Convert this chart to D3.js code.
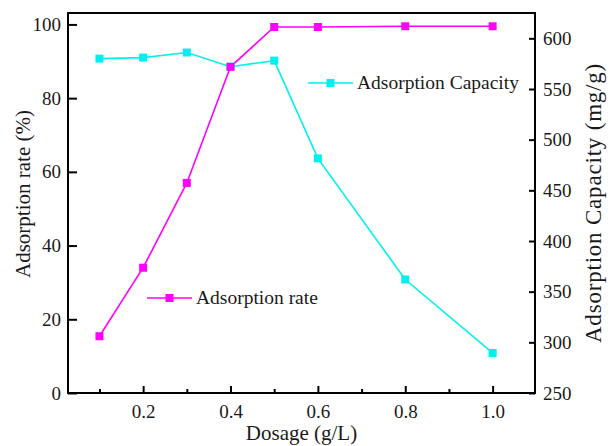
<!DOCTYPE html>
<html>
<head>
<meta charset="utf-8">
<script src="https://cdn.jsdelivr.net/npm/d3@7/dist/d3.min.js"></script>
<style>
  body { margin: 0; background: #fff; }
  svg text { font-family: "Liberation Serif", "Times New Roman", serif; }
</style>
</head>
<body>
<svg width="611" height="446"></svg>
<script>
// data
var dosage = [0.1, 0.2, 0.3, 0.4, 0.5, 0.6, 0.8, 1.0];
var rate = [15.4, 34.0, 57.0, 88.5, 99.3, 99.3, 99.5, 99.5];       // %
var capacity = [580, 581, 586, 572, 578, 481.5, 362, 289.5];       // mg/g
var xTicks = [0.2, 0.4, 0.6, 0.8, 1.0];
var xMinor = [0.1, 0.3, 0.5, 0.7, 0.9];
var leftTicks = [0, 20, 40, 60, 80, 100];
var rightTicks = [250, 300, 350, 400, 450, 500, 550, 600];

var svg = d3.select('svg');
var plot = {l: 68, r: 535, t: 13, b: 393};

var x = d3.scaleLinear().domain([0.028, 1.097]).range([plot.l, plot.r]);
var yL = d3.scaleLinear().domain([0, 103.1]).range([plot.b, plot.t]);
var yR = d3.scaleLinear().domain([250, 625]).range([plot.b, plot.t]);

var rateColor = '#ff00ff', capColor = '#00f0f0';

// frame
svg.append('rect')
  .attr('x', plot.l).attr('y', plot.t)
  .attr('width', plot.r - plot.l).attr('height', plot.b - plot.t)
  .attr('fill', 'none').attr('stroke', '#000').attr('stroke-width', 2);

// bottom axis, ticks pointing inwards
var xAxis = d3.axisBottom(x).tickValues(xTicks).tickSizeInner(-7).tickSizeOuter(0)
  .tickFormat(d3.format('.1f')).tickPadding(12);
var gx = svg.append('g').attr('transform', 'translate(0,' + plot.b + ')').call(xAxis);
svg.append('g').attr('transform', 'translate(0,' + plot.b + ')')
  .call(d3.axisBottom(x).tickValues(xMinor).tickSizeInner(-4).tickSizeOuter(0).tickFormat(''));

// left axis
var gl = svg.append('g').attr('transform', 'translate(' + plot.l + ',0)')
  .call(d3.axisLeft(yL).tickValues(leftTicks).tickSizeInner(-9).tickSizeOuter(0).tickPadding(16));

// right axis
var gr = svg.append('g').attr('transform', 'translate(' + plot.r + ',0)')
  .call(d3.axisRight(yR).tickValues(rightTicks).tickSizeInner(-6).tickSizeOuter(0).tickPadding(14));

svg.selectAll('.domain').remove();
svg.selectAll('.tick line').attr('stroke', '#000').attr('stroke-width', 2);
svg.selectAll('.tick text')
  .attr('font-family', '"Liberation Serif", serif')
  .style('font-size', '19px').attr('fill', '#1a1a1a');
gx.selectAll('.tick text').attr('dy', '0.71em');
gl.selectAll('.tick text').attr('x', -7);
gr.selectAll('.tick text').attr('x', 8);

// axis titles
svg.append('text').text('Dosage (g/L)')
  .attr('x', (plot.l + plot.r) / 2).attr('y', 440)
  .attr('text-anchor', 'middle').style('font-size', '21px').attr('fill', '#1a1a1a');

svg.append('text').text('Adsorption rate (%)')
  .attr('transform', 'translate(30,194) rotate(-90)')
  .attr('text-anchor', 'middle').style('font-size', '21px').attr('fill', '#1a1a1a');

svg.append('text').text('Adsorption Capacity (mg/g)')
  .attr('transform', 'translate(601,203) rotate(-90)')
  .attr('text-anchor', 'middle').style('font-size', '23px')
  .style('letter-spacing', '0.8px').attr('fill', '#1a1a1a');

// series
var lineRate = d3.line().x((d, i) => x(dosage[i])).y(d => yL(d));
var lineCap = d3.line().x((d, i) => x(dosage[i])).y(d => yR(d));

svg.append('path').attr('d', lineCap(capacity))
  .attr('fill', 'none').attr('stroke', capColor).attr('stroke-width', 1.6);
svg.append('path').attr('d', lineRate(rate))
  .attr('fill', 'none').attr('stroke', rateColor).attr('stroke-width', 1.6);

var ms = 8;
svg.selectAll('.cap-pt').data(capacity).enter().append('rect')
  .attr('class', 'cap-pt')
  .attr('x', (d, i) => x(dosage[i]) - ms / 2).attr('y', d => yR(d) - ms / 2)
  .attr('width', ms).attr('height', ms).attr('fill', capColor);
svg.selectAll('.rate-pt').data(rate).enter().append('rect')
  .attr('class', 'rate-pt')
  .attr('x', (d, i) => x(dosage[i]) - ms / 2).attr('y', d => yL(d) - ms / 2)
  .attr('width', ms).attr('height', ms).attr('fill', rateColor);

// legends
function legend(lx, ly, color, label) {
  var g = svg.append('g').attr('transform', 'translate(' + lx + ',' + ly + ')');
  g.append('line').attr('x1', 0).attr('x2', 45).attr('y1', 0).attr('y2', 0)
    .attr('stroke', color).attr('stroke-width', 1.6);
  g.append('rect').attr('x', 22.5 - ms / 2).attr('y', -ms / 2)
    .attr('width', ms).attr('height', ms).attr('fill', color);
  g.append('text').text(label).attr('x', 49).attr('y', 0).attr('dy', '0.33em')
    .style('font-size', '19.5px').attr('fill', '#1a1a1a');
}
legend(308, 83, capColor, 'Adsorption Capacity');
legend(147, 298, rateColor, 'Adsorption rate');
</script>
</body>
</html>
